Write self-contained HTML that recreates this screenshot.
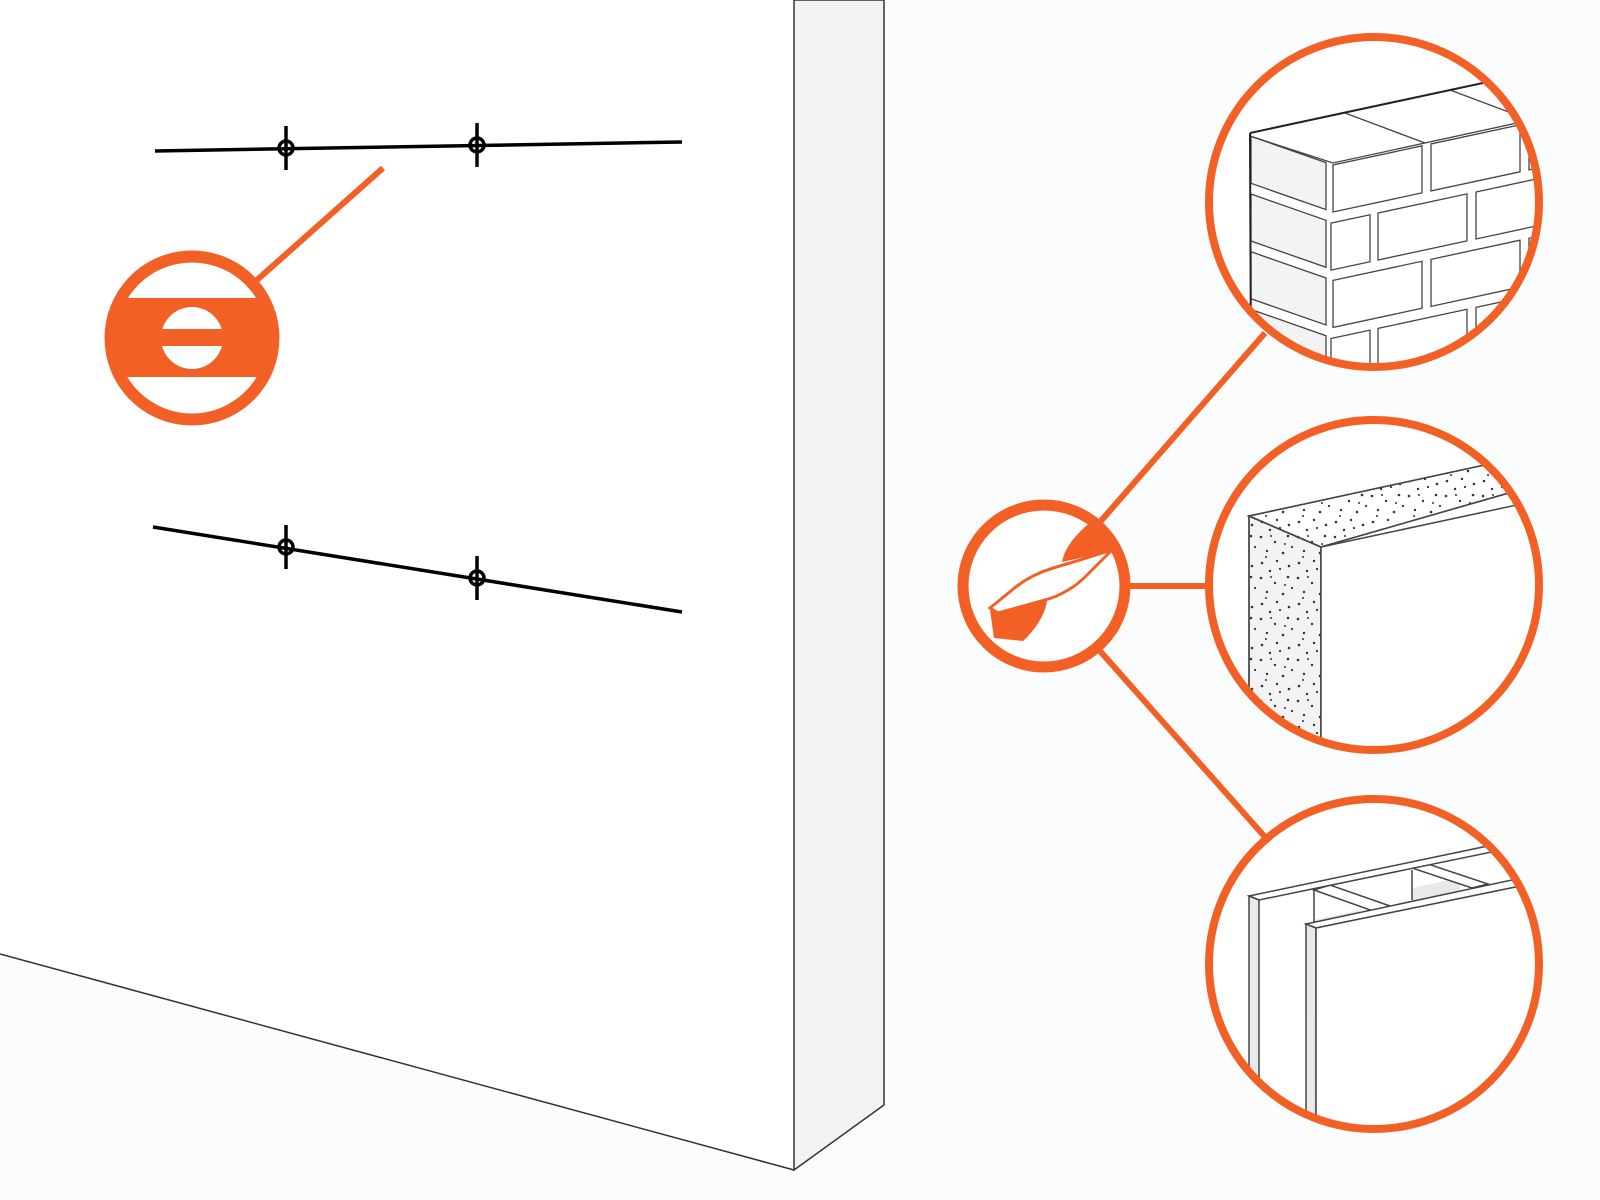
<!DOCTYPE html>
<html><head><meta charset="utf-8"><style>html,body{margin:0;padding:0;background:#fbfcfe}svg{display:block}</style></head>
<body>
<svg width="1600" height="1200" viewBox="0 0 1600 1200" xmlns="http://www.w3.org/2000/svg">
<defs>
<pattern id="dots" width="37" height="41" patternUnits="userSpaceOnUse">
<g fill="#333">
<circle cx="3" cy="4" r="1.3"/><circle cx="17" cy="9" r="1.2"/><circle cx="30" cy="3" r="1.3"/>
<circle cx="9" cy="18" r="1.2"/><circle cx="25" cy="20" r="1.3"/><circle cx="34" cy="14" r="1.1"/>
<circle cx="4" cy="30" r="1.3"/><circle cx="19" cy="28" r="1.2"/><circle cx="31" cy="33" r="1.3"/>
<circle cx="12" cy="38" r="1.2"/><circle cx="22" cy="36" r="1.1"/><circle cx="13" cy="3" r="1"/>
<circle cx="27" cy="11" r="1"/><circle cx="8" cy="24" r="1"/>
</g></pattern>
<clipPath id="c1"><circle cx="1374" cy="202" r="163"/></clipPath>
<clipPath id="c2"><circle cx="1374" cy="585" r="163"/></clipPath>
<clipPath id="c3"><circle cx="1374" cy="964" r="163"/></clipPath>
<clipPath id="lv"><circle cx="192" cy="338" r="82"/></clipPath>
</defs>
<rect width="1600" height="1200" fill="#fbfcfe"/>
<polygon points="0,0 794,0 794,1170 0,954" fill="#ffffff"/>
<polygon points="794,0 884,0 884,1105 794,1170" fill="#f3f3f3" stroke="#333" stroke-width="1.5"/>
<line x1="0" y1="954" x2="794" y2="1170" stroke="#333" stroke-width="1.5"/>
<g stroke="#000" stroke-width="3.5" fill="none">
<line x1="155" y1="151" x2="682" y2="142"/>
<line x1="153" y1="527" x2="682" y2="612"/>
<circle cx="286" cy="148" r="7"/><line x1="286" y1="126" x2="286" y2="170"/>
<circle cx="477" cy="145" r="7"/><line x1="477" y1="123" x2="477" y2="167"/>
<circle cx="286" cy="547" r="7"/><line x1="286" y1="525" x2="286" y2="569"/>
<circle cx="477" cy="578" r="7"/><line x1="477" y1="556" x2="477" y2="600"/>
</g>
<line x1="383" y1="168" x2="257" y2="280" stroke="#f26026" stroke-width="6"/>
<circle cx="192" cy="338" r="76" fill="#fff"/>
<rect x="100" y="298" width="190" height="79" fill="#f26026" clip-path="url(#lv)"/>
<circle cx="192" cy="338" r="81.5" fill="none" stroke="#f26026" stroke-width="12"/>
<circle cx="192" cy="338" r="31" fill="#fff"/>
<rect x="158" y="329" width="68" height="17" fill="#f26026"/>
<g stroke="#f26026" stroke-width="6">
<line x1="1100" y1="522" x2="1265" y2="333"/>
<line x1="1128" y1="586" x2="1210" y2="586"/>
<line x1="1100" y1="651" x2="1265" y2="837"/>
</g>
<circle cx="1044" cy="586" r="81" fill="#fff" stroke="#f26026" stroke-width="11"/>
<path d="M1097,517 C1080,530 1065,545 1062,562 L1112,551 Z" fill="#f26026"/>
<path d="M990,608 L1012,590 C1030,575 1045,570 1070,563 L1112,550 L1085,577 C1075,587 1060,596 1045,600 L998,613 Z" fill="#fff" stroke="#f26026" stroke-width="3"/>
<path d="M990,610 L994,638 L1023,641 C1035,630 1045,615 1047,601 L998,613 Z" fill="#f26026"/>
<circle cx="1374" cy="202" r="165" fill="#fff"/>
<g clip-path="url(#c1)" stroke="#444" stroke-width="1.3" fill="#fff">
<g transform="matrix(1,0.35,0,1,1250,136)" fill="#f3f3f3">
<rect x="1" y="0" width="75" height="47" vector-effect="non-scaling-stroke"/>
<rect x="1" y="57.7" width="75" height="47" vector-effect="non-scaling-stroke"/>
<rect x="1" y="115.4" width="75" height="47" vector-effect="non-scaling-stroke"/>
<rect x="1" y="173.1" width="75" height="47" vector-effect="non-scaling-stroke"/>
<rect x="1" y="230.8" width="75" height="47" vector-effect="non-scaling-stroke"/>
</g>
<g transform="matrix(1,-0.215,0,1,1333,165)">
<rect x="0" y="0" width="89" height="47" vector-effect="non-scaling-stroke"/>
<rect x="98" y="0" width="89" height="47" vector-effect="non-scaling-stroke"/>
<rect x="196" y="0" width="89" height="47" vector-effect="non-scaling-stroke"/>
<rect x="-2" y="57.7" width="39" height="47" vector-effect="non-scaling-stroke"/>
<rect x="45" y="57.7" width="89" height="47" vector-effect="non-scaling-stroke"/>
<rect x="143" y="57.7" width="89" height="47" vector-effect="non-scaling-stroke"/>
<rect x="0" y="115.4" width="89" height="47" vector-effect="non-scaling-stroke"/>
<rect x="98" y="115.4" width="89" height="47" vector-effect="non-scaling-stroke"/>
<rect x="196" y="115.4" width="89" height="47" vector-effect="non-scaling-stroke"/>
<rect x="-2" y="173.1" width="39" height="47" vector-effect="non-scaling-stroke"/>
<rect x="45" y="173.1" width="89" height="47" vector-effect="non-scaling-stroke"/>
<rect x="143" y="173.1" width="89" height="47" vector-effect="non-scaling-stroke"/>
<rect x="0" y="230.8" width="89" height="47" vector-effect="non-scaling-stroke"/>
<rect x="98" y="230.8" width="89" height="47" vector-effect="non-scaling-stroke"/>
</g>
<polyline points="1250,136 1333,163 1540,118" fill="none"/>
<line x1="1345" y1="113" x2="1425" y2="143"/>
<line x1="1450" y1="90" x2="1530" y2="120"/>
<line x1="1250" y1="133" x2="1520" y2="75" stroke="#222" stroke-width="2"/>
<line x1="1250" y1="133" x2="1251" y2="380" stroke="#222" stroke-width="2"/>
</g>
<circle cx="1374" cy="202" r="165" fill="none" stroke="#f26026" stroke-width="8"/>
<circle cx="1374" cy="585" r="165" fill="#fff"/>
<g clip-path="url(#c2)" stroke="#444" stroke-width="1.5">
<polygon points="1249,516 1321,547 1321,800 1249,800" fill="#f3f3f3"/>
<polygon points="1249,516 1321,547 1321,800 1249,800" fill="url(#dots)"/>
<polygon points="1249,516 1540,453 1540,484 1321,547" fill="#fff"/>
<polygon points="1249,516 1540,453 1540,484 1321,547" fill="url(#dots)"/>
<polygon points="1321,547 1540,500 1540,800 1321,800" fill="#fff"/>
</g>
<circle cx="1374" cy="585" r="165" fill="none" stroke="#f26026" stroke-width="8"/>
<circle cx="1374" cy="964" r="165" fill="#fff"/>
<g clip-path="url(#c3)" stroke="#444" stroke-width="1.5">
<polygon points="1314,920 1360,910 1360,1000 1314,1000" fill="#e8e9ea" stroke="none"/>
<polygon points="1412,888 1460,878 1460,990 1412,990" fill="#e8e9ea" stroke="none"/>
<line x1="1314" y1="890" x2="1314" y2="924"/>
<line x1="1412" y1="870" x2="1412" y2="900"/>
<polygon points="1314,890 1330,885 1390,906 1373,911" fill="#fff"/>
<polygon points="1412,868 1428,864 1488,884 1472,888" fill="#fff"/>
<polygon points="1249,896 1540,835 1540,842 1259,900" fill="#fff"/>
<polygon points="1249,896 1259,900 1259,1140 1249,1140" fill="#e8e9ea"/>
<polygon points="1306,924 1540,874 1540,882 1316,928" fill="#fff"/>
<polygon points="1306,924 1316,928 1316,1140 1306,1140" fill="#e8e9ea"/>
<polygon points="1316,928 1540,882 1540,1140 1316,1140" fill="#fff"/>
</g>
<circle cx="1374" cy="964" r="165" fill="none" stroke="#f26026" stroke-width="8"/>
</svg>
</body></html>
